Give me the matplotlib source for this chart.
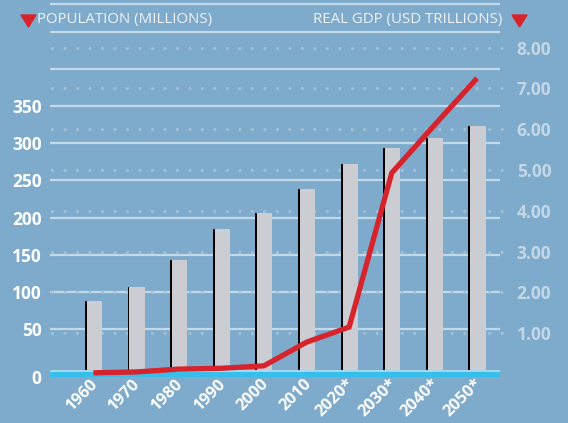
import matplotlib
matplotlib.use('Agg')
import matplotlib.pyplot as plt
from matplotlib.patches import Polygon
import matplotlib.transforms as mtransforms
import numpy as np

years = ['1960', '1970', '1980', '1990', '2000', '2010', '2020*', '2030*', '2040*', '2050*']
population = [88, 107, 143, 184, 206, 238, 272, 293, 307, 323]
gdp = [0.03, 0.05, 0.12, 0.14, 0.2, 0.78, 1.15, 4.93, 6.1, 7.25]

pop_ticks = [-14, 50, 100, 150, 200, 250, 300, 350]
pop_labels = ['0', '50', '100', '150', '200', '250', '300', '350']
gdp_ticks = [1, 2, 3, 4, 5, 6, 7, 8]
gdp_labels = ['1.00', '2.00', '3.00', '4.00', '5.00', '6.00', '7.00', '8.00']

bg = '#7eaacb'
W, H = 568, 423
plt.rcParams['font.family'] = ['Open Sans', 'DejaVu Sans']

fig = plt.figure(figsize=(W / 100, H / 100), dpi=100, facecolor=bg)
ax = fig.add_axes([50 / W, (H - 380) / H, 450 / W, 378 / H])
ax.set_facecolor(bg)
ax2 = ax.twinx()
ax2.patch.set_visible(False)

x = np.arange(len(years))
ax.set_xlim(-1.07, 9.49)
ax.set_ylim(-18.4, 489.7)
ax2.set_ylim(-0.147, 9.12)

# solid grid lines
for v in list(range(50, 500, 50)) + [487]:
    ax.axhline(v, color='#c4d9e8', lw=1.6, zorder=0.5)

# dotted grid lines for right axis (kept behind the bars)
tr = mtransforms.blended_transform_factory(ax.transAxes, ax2.transData)
for v in gdp_ticks:
    ax.plot([0.004, 1.024], [v, v], transform=tr, color='#a2c2da', lw=2.3,
            ls=(0, (0.01, 3.9)), dash_capstyle='round', clip_on=False, zorder=0.6)

# bars with a black left edge, running down to the cyan band
base = -5
heights = np.array(population) - base
bw = 0.4
ax.bar(x - 0.05, heights, bottom=base, width=bw, color='#cbcdd2', zorder=2)
ax.bar(x - 0.05 - bw / 2 + 0.022, heights, bottom=base, width=0.044, color='black',
       zorder=2.1)

# cyan baseline band
ax.axhspan(-7.5, -14.5, xmin=0, xmax=1.01, color='#35bfea', zorder=3, lw=0)
ax.axhspan(-4.8, -7.5, xmin=0, xmax=1.01, color='#a9d6ea', zorder=3, lw=0)

# GDP line
ax2.plot(x - 0.05, gdp, color='#d7232b', lw=3.8, solid_capstyle='butt',
         solid_joinstyle='miter', zorder=4)

for a in (ax, ax2):
    for s in a.spines.values():
        s.set_visible(False)

ax.set_yticks(pop_ticks)
ax.set_yticklabels(pop_labels, fontsize=12.5, fontweight='bold', color='white')
ax.tick_params(axis='y', length=0, pad=6)
ax2.set_yticks(gdp_ticks)
ax2.set_yticklabels(gdp_labels, fontsize=12.5, fontweight='bold', color='#c3d7e6')
ax2.tick_params(axis='y', length=0, pad=12)

ax.set_xticks(x - 0.13)
ax.set_xticklabels(years, rotation=45, ha='right', va='top', rotation_mode='anchor',
                   fontsize=11.8, fontweight='bold', color='white')
ax.tick_params(axis='x', length=0, pad=-3)

# titles and red markers
fig.text(37 / W, 1 - 20 / H, 'POPULATION (MILLIONS)', fontsize=10.8, color='#eef3f8',
         ha='left', va='center')
fig.text(502 / W, 1 - 20 / H, 'REAL GDP (USD TRILLIONS)', fontsize=10.8, color='#eef3f8',
         ha='right', va='center')
for x0 in (21, 512):
    tri = Polygon([[x0 / W, 1 - 15 / H], [(x0 + 15) / W, 1 - 15 / H],
                   [(x0 + 7.5) / W, 1 - 27 / H]], closed=True,
                  transform=fig.transFigure, color='#d7232b')
    fig.add_artist(tri)

fig.savefig('out.png', dpi=100, facecolor=bg)
